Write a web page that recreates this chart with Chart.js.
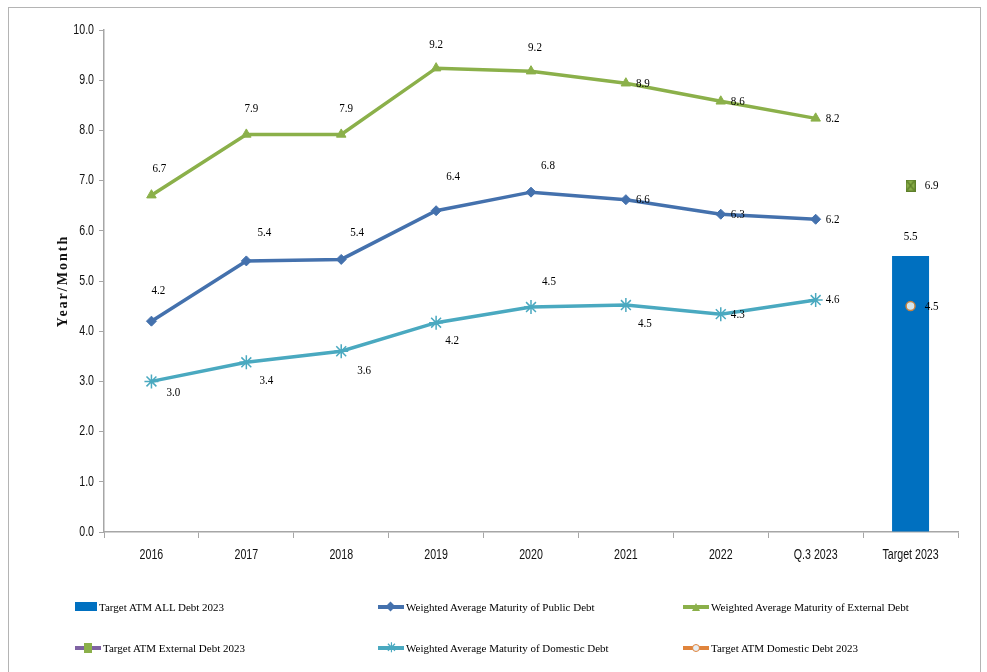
<!DOCTYPE html>
<html><head><meta charset="utf-8">
<script src="https://cdn.jsdelivr.net/npm/chart.js@4/dist/chart.umd.min.js"></script>
<style>
html,body{margin:0;padding:0;background:#fff;}
#wrap{position:relative;width:987px;height:672px;overflow:hidden;}
#frame{position:absolute;left:8px;top:7px;width:973px;height:700px;border:1px solid #b4b4b4;box-sizing:border-box;}
#c{position:absolute;left:0;top:0;}
.lg{position:absolute;font-family:'Liberation Serif','Times New Roman',serif;font-size:11px;color:#000;white-space:nowrap;line-height:14px;}
.mk{position:absolute;}
</style></head>
<body><div id="wrap"><div id="frame"></div><canvas id="c" width="987" height="672"></canvas><div id="legend"></div></div>
<script>
const categories = ['2016','2017','2018','2019','2020','2021','2022','Q.3 2023','Target 2023'];
const publicDebt   = [4.2, 5.4, 5.43, 6.4, 6.77, 6.62, 6.33, 6.23, null];
const externalDebt = [6.71, 7.92, 7.92, 9.24, 9.18, 8.94, 8.58, 8.24, null];
const domesticDebt = [3.0, 3.38, 3.6, 4.17, 4.48, 4.52, 4.34, 4.62, null];
const targetAll      = [null, null, null, null, null, null, null, null, 5.5];
const targetExternal = [null, null, null, null, null, null, null, null, 6.9];
const targetDomestic = [null, null, null, null, null, null, null, null, 4.5];
const yTicks = [0,1,2,3,4,5,6,7,8,9,10];
const yTitle = 'Year/Month';

// label offsets (style only)
const offs = {
  ext: [[8,-27],[5,-26],[5,-26],[0,-24],[4,-24],[17,0],[17,0],[17,0],[0,0]],
  pub: [[7,-31],[18,-28],[16,-27],[17,-34],[17,-27],[17,0],[17,0],[17,0],[0,0]],
  dom: [[22,11],[20,18],[23,19],[16,18],[18,-26],[19,18],[17,0],[17,0],[0,0]],
  all: [[0,0],[0,0],[0,0],[0,0],[0,0],[0,0],[0,0],[0,0],[0,-19]],
  tex: [[0,0],[0,0],[0,0],[0,0],[0,0],[0,0],[0,0],[0,0],[21,0]],
  tdo: [[0,0],[0,0],[0,0],[0,0],[0,0],[0,0],[0,0],[0,0],[21,0]]
};

const C_PUB='#4471ad', C_EXT='#8bb04a', C_DOM='#4aa9c0', C_BAR='#0070c0';

// marker image: green square with X
const xMark = document.createElement('canvas');
xMark.width = 10; xMark.height = 12;
(function(){
  const g = xMark.getContext('2d');
  g.fillStyle = C_EXT; g.fillRect(0,0,10,12);
  g.strokeStyle = '#5d7f2a'; g.lineWidth = 1.3;
  g.beginPath(); g.moveTo(1.5,1.5); g.lineTo(8.5,10.5); g.moveTo(8.5,1.5); g.lineTo(1.5,10.5); g.stroke();
  g.strokeRect(0.5,0.5,9,11);
})();

const TICK_FONT = "14px 'Liberation Sans', Arial, sans-serif";
const SQUEEZE = 0.76;

const drawPlugin = {
  id:'custom',
  afterDatasetsDraw(chart){
    const ctx = chart.ctx;
    ctx.save();
    ctx.font = "13px 'Liberation Serif', 'Times New Roman', serif";
    ctx.fillStyle = '#000';
    ctx.textAlign = 'center';
    ctx.textBaseline = 'middle';
    chart.data.datasets.forEach((ds, di) => {
      const meta = chart.getDatasetMeta(di);
      const o = offs[ds.key];
      meta.data.forEach((el, i) => {
        const v = ds.data[i];
        if (v === null || v === undefined) return;
        const x = el.x + o[i][0], y = el.y + o[i][1];
        ctx.save(); ctx.translate(x, y); ctx.scale(0.85, 1);
        ctx.fillText(v.toFixed(1), 0, 0);
        ctx.restore();
      });
    });
    ctx.restore();
  },
  afterDraw(chart){
    const ctx = chart.ctx;
    const xs = chart.scales.x, ys = chart.scales.y;
    ctx.save();
    ctx.fillStyle = '#111';
    ctx.font = TICK_FONT;
    ctx.textBaseline = 'middle';
    ctx.textAlign = 'center';
    categories.forEach((c, i) => {
      const x = xs.getPixelForTick(i);
      ctx.save(); ctx.translate(x, chart.chartArea.bottom + 23); ctx.scale(SQUEEZE, 1);
      ctx.fillText(c, 0, 0); ctx.restore();
    });
    ctx.textAlign = 'right';
    yTicks.forEach(v => {
      const y = ys.getPixelForValue(v);
      ctx.save(); ctx.translate(ys.right - 10, y); ctx.scale(SQUEEZE, 1);
      ctx.fillText(v.toFixed(1), 0, 0); ctx.restore();
    });
    ctx.save();
    ctx.translate(63, (chart.chartArea.top + chart.chartArea.bottom) / 2);
    ctx.rotate(-Math.PI / 2);
    ctx.textAlign = 'center';
    ctx.font = "bold 14px 'Liberation Serif', 'Times New Roman', serif";
    if ('letterSpacing' in ctx) ctx.letterSpacing = '2px';
    ctx.fillText(yTitle, 0, 0);
    ctx.restore();
    ctx.restore();
  }
};

new Chart(document.getElementById('c'), {
  type: 'bar',
  data: {
    labels: categories,
    datasets: [
      {key:'all', type:'bar', label:'Target ATM  ALL Debt 2023', data: targetAll, backgroundColor: C_BAR, barPercentage:0.39, categoryPercentage:1, order:10},
      {key:'pub', type:'line', label:'Weighted Average Maturity of Public Debt', data: publicDebt, borderColor:C_PUB, backgroundColor:C_PUB, borderWidth:3.5, pointStyle:'rectRot', pointRadius:5, pointBorderWidth:1, order:3},
      {key:'ext', type:'line', label:'Weighted Average Maturity of External Debt', data: externalDebt, borderColor:C_EXT, backgroundColor:C_EXT, borderWidth:3.5, pointStyle:'triangle', pointRadius:5.5, pointBorderWidth:1, order:2},
      {key:'tex', type:'line', label:'Target ATM External Debt 2023', data: targetExternal, showLine:false, borderColor:'#6b8f2e', backgroundColor:C_EXT, pointStyle:xMark, pointRadius:6, order:1},
      {key:'dom', type:'line', label:'Weighted Average Maturity of Domestic Debt', data: domesticDebt, borderColor:C_DOM, backgroundColor:C_DOM, borderWidth:3.5, pointStyle:'star', pointRadius:7, pointBorderWidth:1.5, order:4},
      {key:'tdo', type:'line', label:'Target ATM Domestic Debt 2023', data: targetDomestic, showLine:false, borderColor:'#c7823f', backgroundColor:'#d6e6ec', pointStyle:'circle', pointRadius:4.5, pointBorderWidth:1.5, order:0}
    ]
  },
  options: {
    responsive:false, animation:false,
    layout:{padding:{left:54, top:30, right:29, bottom:100}},
    plugins:{legend:{display:false}, tooltip:{enabled:false}},
    scales:{
      x:{
        offset:true,
        grid:{offset:true, drawOnChartArea:false, drawTicks:true, tickLength:6, color:'#a6a6a6'},
        border:{color:'#a6a6a6', width:1.5},
        ticks:{color:'rgba(0,0,0,0)', padding:10, maxRotation:0, autoSkip:false, font:{size:12}},
        afterFit(s){ s.height = 40; }
      },
      y:{
        min:0, max:10,
        afterBuildTicks(s){ s.ticks = yTicks.map(v=>({value:v})); },
        grid:{drawOnChartArea:false, drawTicks:true, tickLength:5, color:'#a6a6a6'},
        border:{color:'#a6a6a6', width:1.5},
        ticks:{color:'rgba(0,0,0,0)', padding:5, callback:v=>v.toFixed(1), font:{size:12}},
        afterFit(s){ s.width = 50; }
      }
    }
  },
  plugins:[drawPlugin]
});

// HTML legend
const legendItems = [
  {t:'Target ATM  ALL Debt 2023', x:75, y:600, kind:'box', c:C_BAR},
  {t:'Weighted Average Maturity of Public Debt', x:378, y:600, kind:'line', c:C_PUB, m:'diamond'},
  {t:'Weighted Average Maturity of External Debt', x:683, y:600, kind:'line', c:C_EXT, m:'tri'},
  {t:'Target ATM External Debt 2023', x:75, y:641, kind:'line', c:'#7f63a3', m:'x'},
  {t:'Weighted Average Maturity of Domestic Debt', x:378, y:641, kind:'line', c:C_DOM, m:'star'},
  {t:'Target ATM Domestic Debt 2023', x:683, y:641, kind:'line', c:'#e0843c', m:'circ'}
];
const L = document.getElementById('legend');
legendItems.forEach(it => {
  const d = document.createElement('div');
  if (it.kind === 'box') {
    d.innerHTML = `<div class="mk" style="left:${it.x}px;top:${it.y+2}px;width:22px;height:9px;background:${it.c}"></div>` +
      `<div class="lg" style="left:${it.x+24}px;top:${it.y}px">${it.t}</div>`;
  } else {
    let marker = '';
    const cx = it.x + 13, cy = it.y + 7;
    if (it.m === 'diamond') marker = `<div class="mk" style="left:${cx-4}px;top:${cy-4}px;width:7px;height:7px;background:${it.c};transform:rotate(45deg)"></div>`;
    if (it.m === 'tri') marker = `<div class="mk" style="left:${cx-4}px;top:${cy-4}px;width:0;height:0;border-left:4px solid transparent;border-right:4px solid transparent;border-bottom:8px solid ${it.c}"></div>`;
    if (it.m === 'x') marker = `<div class="mk" style="left:${cx-4}px;top:${cy-5}px;width:8px;height:10px;background:${C_EXT}"></div>`;
    if (it.m === 'star') marker = `<div class="mk" style="left:${cx-5}px;top:${cy-7}px;font:bold 13px sans-serif;color:${it.c};line-height:14px">✳</div>`;
    if (it.m === 'circ') marker = `<div class="mk" style="left:${cx-4}px;top:${cy-4}px;width:6px;height:6px;border:1.5px solid ${it.c};border-radius:50%;background:#e8eef2"></div>`;
    d.innerHTML = `<div class="mk" style="left:${it.x}px;top:${cy-2}px;width:26px;height:4px;background:${it.c}"></div>` + marker +
      `<div class="lg" style="left:${it.x+28}px;top:${it.y}px">${it.t}</div>`;
  }
  L.appendChild(d);
});
</script>
</body></html>
